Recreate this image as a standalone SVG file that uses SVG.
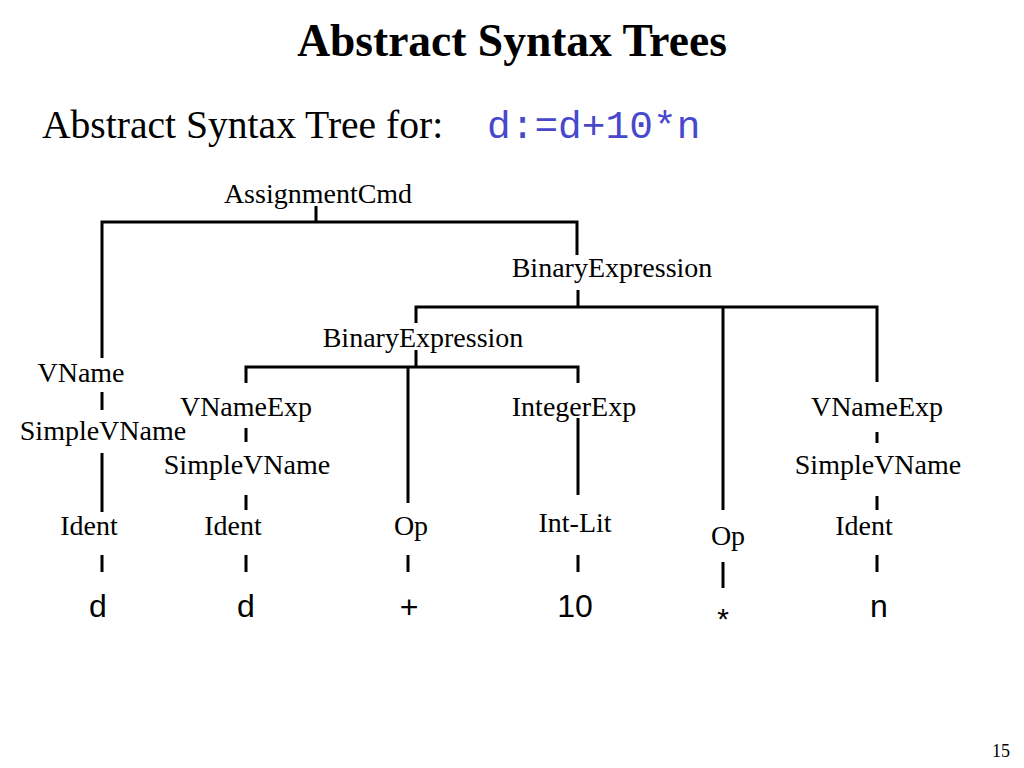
<svg xmlns="http://www.w3.org/2000/svg" width="1024" height="768" viewBox="0 0 1024 768">
<style>
.lbl{font-family:"Liberation Serif","Times New Roman",serif;font-size:28px;fill:#000;text-anchor:middle}
.leaf{font-family:"Liberation Sans",Arial,sans-serif;font-size:32px;fill:#000;text-anchor:middle}
.ln{stroke:#000;stroke-width:3;fill:none}
</style>
<rect width="1024" height="768" fill="#fff"/>
<text x="512" y="56" style="font-family:'Liberation Serif','Times New Roman',serif;font-size:45.5px;font-weight:bold;text-anchor:middle">Abstract Syntax Trees</text>
<text x="42" y="138" style="font-family:'Liberation Serif','Times New Roman',serif;font-size:39.6px">Abstract Syntax Tree for:</text>
<text x="487" y="138" style="font-family:'Liberation Mono','Courier New',monospace;font-size:39.5px;fill:#4848cc">d:=d+10*n</text>
<text x="1001" y="757" style="font-family:'Liberation Serif','Times New Roman',serif;font-size:18px;text-anchor:middle">15</text>

<g id="connectors" class="ln">
<path d="M316,206 V222 M102,358 V222 H577 V255"/>
<path d="M578,290 V307 M416,323 V307 H877 V382 M723,307 V510"/>
<path d="M416,350 V367 M246,383 V367 H578 V383 M408,367 V503"/>
<path d="M102,392 V410 M102,453 V512 M102,555 V572"/>
<path d="M246,428 V442 M246,495 V510 M246,555 V572"/>
<path d="M408,555 V572"/>
<path d="M578,418 V495 M578,555 V572"/>
<path d="M723,562 V588"/>
<path d="M877,432 V443 M877,496 V510 M877,555 V572"/>
</g>

<g id="n-assign"><text class="lbl" x="318" y="203">AssignmentCmd</text></g>
<g id="n-binexp1"><text class="lbl" x="612" y="277">BinaryExpression</text></g>
<g id="n-binexp2"><text class="lbl" x="423" y="347">BinaryExpression</text></g>
<g id="n-vname"><text class="lbl" x="81" y="382">VName</text></g>
<g id="n-simple1"><text class="lbl" x="103" y="440">SimpleVName</text></g>
<g id="n-ident1"><text class="lbl" x="89" y="535">Ident</text></g>
<g id="n-d1"><text class="leaf" x="98" y="617">d</text></g>
<g id="n-vnexp1"><text class="lbl" x="246" y="416">VNameExp</text></g>
<g id="n-simple2"><text class="lbl" x="247" y="474">SimpleVName</text></g>
<g id="n-ident2"><text class="lbl" x="233" y="535">Ident</text></g>
<g id="n-d2"><text class="leaf" x="246" y="617">d</text></g>
<g id="n-op1"><text class="lbl" x="411" y="535">Op</text></g>
<g id="n-plus"><text class="leaf" x="409" y="618">+</text></g>
<g id="n-intexp"><text class="lbl" x="574" y="416">IntegerExp</text></g>
<g id="n-intlit"><text class="lbl" x="575" y="532">Int-Lit</text></g>
<g id="n-ten"><text class="leaf" x="575" y="617">10</text></g>
<g id="n-op2"><text class="lbl" x="728" y="545">Op</text></g>
<g id="n-star"><text class="leaf" x="723" y="629" style="font-size:30px">*</text></g>
<g id="n-vnexp2"><text class="lbl" x="877" y="416">VNameExp</text></g>
<g id="n-simple3"><text class="lbl" x="878" y="474">SimpleVName</text></g>
<g id="n-ident3"><text class="lbl" x="864" y="535">Ident</text></g>
<g id="n-n"><text class="leaf" x="879" y="617">n</text></g>
</svg>
